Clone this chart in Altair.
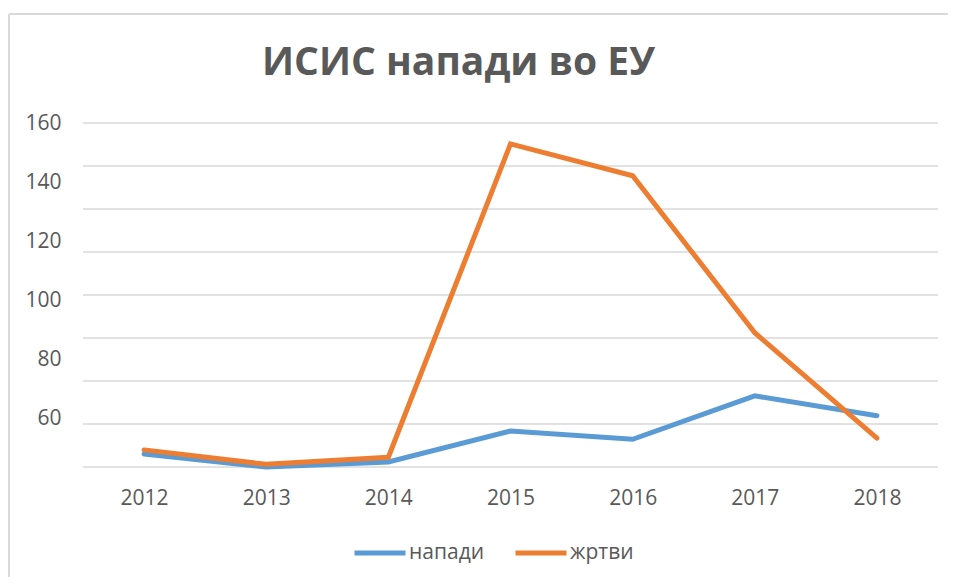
import altair as alt
import pandas as pd

# ---- data ----
years = ["2012", "2013", "2014", "2015", "2016", "2017", "2018"]
napadi = [48.1, 43.7, 45.4, 55.9, 53.1, 67.8, 61.1]
zrtvi = [49.5, 44.6, 47.0, 153.2, 142.4, 89.2, 53.5]
series_names = ["напади", "жртви"]
series_colors = ["#5B9BD5", "#ED7D31"]
y_label_values = [160, 140, 120, 100, 80, 60, 40]
y_domain = [43.7, 160.3]
grid_values = [160.3, 145.725, 131.15, 116.575, 102.0, 87.425, 72.85, 58.275, 43.7]

df = pd.DataFrame(
    {
        "year": years * 2,
        "value": napadi + zrtvi,
        "series": [series_names[0]] * len(years) + [series_names[1]] * len(years),
    }
)
grid_df = pd.DataFrame({"g": grid_values})

FONT = "Open Sans"
GRAY = "#595959"

yscale = alt.Scale(domain=y_domain, nice=False, zero=False)
xscale = alt.Scale(domain=years, padding=0.5)
cscale = alt.Scale(domain=series_names, range=series_colors)

y_axis = alt.Axis(
    title=None,
    values=y_label_values,
    labelFontSize=21,
    labelColor=GRAY,
    labelFont=FONT,
    labelPadding=22,
    ticks=False,
    domain=False,
    grid=False,
)
x_axis = alt.Axis(
    title=None,
    labelAngle=0,
    labelFontSize=21,
    labelColor=GRAY,
    labelFont=FONT,
    labelPadding=20,
    ticks=False,
    domain=False,
    grid=False,
)
legend = alt.Legend(
    title=None,
    orient="none",
    legendX=269,
    legendY=402,
    direction="horizontal",
    symbolType="stroke",
    symbolSize=2601,
    symbolStrokeWidth=5,
    labelFontSize=21,
    labelColor=GRAY,
    labelFont=FONT,
    labelOffset=1,
    columnPadding=20,
    padding=0,
)

grid = alt.Chart(grid_df).mark_rule(color="#D9D9D9", strokeWidth=1.5).encode(
    y=alt.Y("g:Q", scale=yscale, axis=y_axis)
)

base = alt.Chart(df)


def line_layer(name):
    return base.transform_filter(alt.datum.series == name).mark_line(
        strokeWidth=5, strokeCap="round", strokeJoin="miter"
    ).encode(
        x=alt.X("year:N", scale=xscale, sort=years, axis=x_axis),
        y=alt.Y("value:Q", scale=yscale, axis=y_axis),
        color=alt.Color("series:N", scale=cscale, legend=legend),
    )


frame_src = pd.DataFrame({"k": [0]})
frame_top = alt.Chart(frame_src).mark_rule(color="#D9D9D9", strokeWidth=2).encode(
    x=alt.value(-74), x2=alt.value(870), y=alt.value(-109)
)
frame_left = alt.Chart(frame_src).mark_rule(color="#D9D9D9", strokeWidth=2).encode(
    x=alt.value(-74), y=alt.value(-109), y2=alt.value(460)
)

chart = alt.layer(
    frame_top,
    frame_left,
    grid,
    line_layer(series_names[0]),
    line_layer(series_names[1]),
).properties(
    width=855,
    height=344,
    autosize=alt.AutoSizeParams(type="none"),
    padding={"left": 75, "top": 115, "right": 10, "bottom": 110},
    title=alt.TitleParams(
        text="ИСИС напади во ЕУ",
        font=FONT,
        fontSize=39,
        fontWeight="bold",
        color=GRAY,
        anchor="middle",
        baseline="alphabetic",
        offset=48,
        dx=-52,
        dy=149,
    ),
).configure_view(stroke=None)

chart.save("out.html", embed_options={"renderer": "svg", "actions": False})
